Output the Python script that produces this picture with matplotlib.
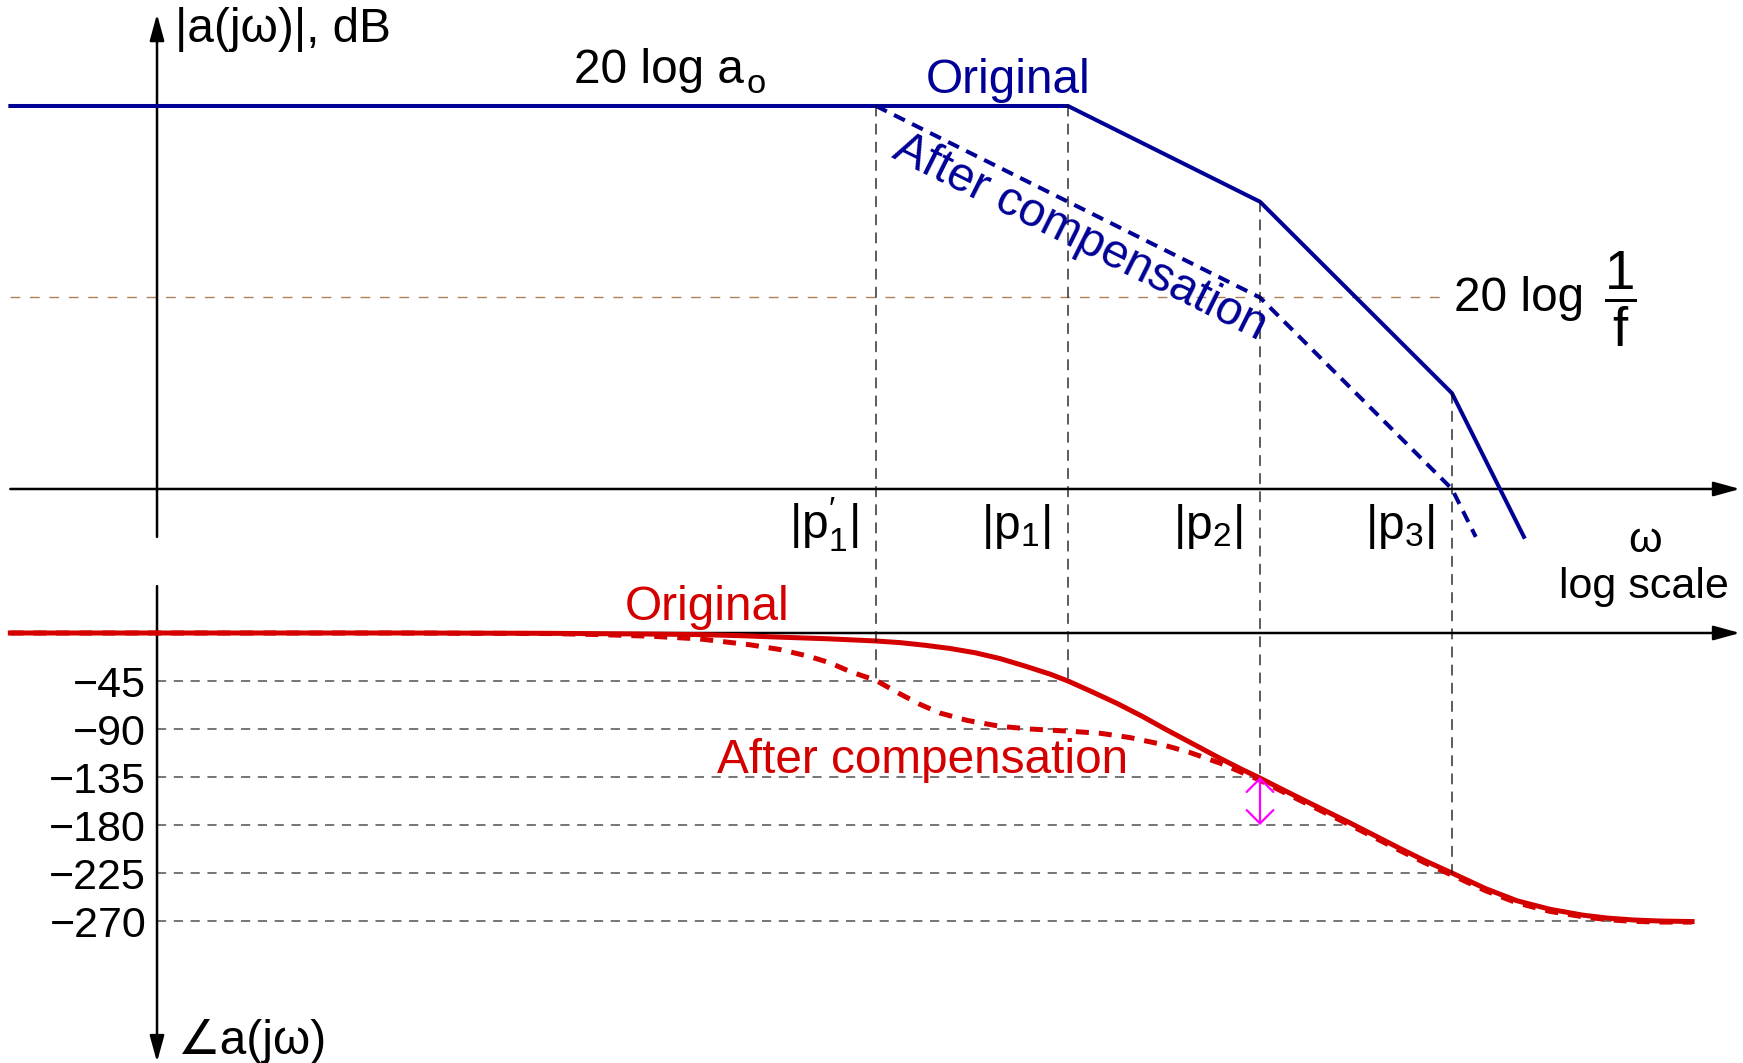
import matplotlib
matplotlib.use("Agg")
import matplotlib.pyplot as plt
from matplotlib.patches import ConnectionPatch
from matplotlib.transforms import offset_copy

plt.rcParams['font.family'] = ['Liberation Sans', 'DejaVu Sans']
plt.rcParams['mathtext.fontset'] = 'custom'
plt.rcParams['mathtext.rm'] = 'Liberation Sans'
plt.rcParams['mathtext.it'] = 'Liberation Sans:italic'
plt.rcParams['mathtext.bf'] = 'Liberation Sans:bold'
plt.rcParams['mathtext.sf'] = 'Liberation Sans'

# ---------------- data ----------------
poles = [1e4, 1e5, 1e6, 1e7]                       # |p1'|, |p1|, |p2|, |p3|
pole_labels = ["|p$_1^{\\prime}$|", "|p$_1$|", "|p$_2$|", "|p$_3$|"]
pole_top_db = [80, 80, 60, 20]                      # marker line start (magnitude, dB)
pole_bottom_deg = [-45, -45, -135, -225]            # marker line end (phase, deg)

mag_orig_w = [0.31, 1e5, 1e6, 1e7, 2.37e7]
mag_orig_db = [80, 80, 60, 20, -10]
mag_comp_w = [1e4, 1e6, 1e7, 1.33e7]
mag_comp_db = [80, 40, 0, -10]
inv_f_db = 40
inv_f_end_w = 8.7e6

ph_orig_w = [0.31, 33, 200, 666, 1.2e3, 1.96e3, 3.28e3, 5.76e3, 1e4, 1.33e4, 1.8e4,
             2.43e4, 3.28e4, 4.43e4, 5.97e4, 8.05e4, 1e5, 1.33e5, 1.8e5, 2.43e5, 3.28e5,
             4.43e5, 5.97e5, 7.87e5, 1e6, 1.27e6, 1.62e6, 2.18e6, 2.94e6, 3.97e6, 5.36e6,
             7.23e6, 1e7, 1.49e7, 2.18e7, 3.24e7, 4.81e7, 6.5e7, 8.77e7, 1.21e8, 1.78e8]
ph_orig_deg = [0, 0, -0.3, -1, -1.5, -2.5, -4, -5.5, -7.5, -9, -11.5,
               -14.5, -18.5, -24, -31, -38.5, -45, -55, -66, -78, -91,
               -103.5, -116, -127, -136, -145.5, -155, -166.5, -178, -190, -202,
               -213.5, -225, -239.5, -251, -259, -264.5, -267.3, -269, -270, -270.5]
ph_comp_w = [0.31, 33, 200, 365, 666, 1.2e3, 2.2e3, 3.16e3, 4.5e3, 5.76e3, 7.3e3, 1e4,
             1.33e4, 1.7e4, 2.15e4, 3.0e4, 4.43e4, 6.34e4, 1e5, 1.47e5, 2.1e5, 3.01e5,
             4.31e5, 6.19e5, 7.87e5, 1e6, 1.27e6, 1.62e6, 2.18e6, 2.94e6, 3.97e6, 5.36e6,
             7.23e6, 1e7, 1.49e7, 2.18e7, 3.24e7, 4.81e7, 6.5e7, 8.77e7, 1.21e8, 1.78e8]
ph_comp_deg = [0, 0, -0.5, -1.5, -3, -5.5, -11, -15.5, -22, -28, -36, -44.5,
               -57, -67, -75, -82, -87.5, -90, -92, -94, -98, -104,
               -112, -122, -130, -138, -147.5, -157, -168.5, -180, -192, -204,
               -215.5, -227, -241.5, -253, -261, -266, -268.8, -270.3, -271, -271]

grid_deg = [-45, -90, -135, -180, -225, -270]
grid_end_w = [1e5, 1e5, 1e6, 2.9e6, 1e7, 1.78e8]
tick_labels = ["\u221245", "\u221290", "\u2212135", "\u2212180", "\u2212225", "\u2212270"]

# ---------------- style ----------------
BLUE = '#000096'
RED = '#D40000'
MAG = '#FF00FF'
BROWN = '#B0805A'
GREY = '#505050'
FS = 34.4

W, H = 1743, 1063
fig = plt.figure(figsize=(W / 100, H / 100), dpi=100)
ax_mag = fig.add_axes([0, 0, 1, 1])
ax_ph = fig.add_axes([0, 0, 1, 1])
for ax in (ax_mag, ax_ph):
    ax.set_xscale('log')
    ax.set_xlim(10 ** -0.5625, 10 ** 8.5156)
    ax.axis('off')
ax_mag.set_ylim(-119.9, 102.14)
ax_ph.set_ylim(-403.1, 593.4)

x_left = 0.31
x_right = 10 ** 8.5
x_vaxis = 1.8

# phase grid lines and labels
for d, we in zip(grid_deg, grid_end_w):
    ax_ph.plot([x_vaxis, we], [d, d], color=GREY, lw=1.1, ls=(0, (6, 5)), zorder=1)
for d, t in zip(grid_deg, tick_labels):
    ax_ph.text(1.58, d, t, ha='right', va='center_baseline', fontsize=31, color='black')

# 1/f line
ax_mag.plot([x_left, inv_f_end_w], [inv_f_db, inv_f_db], color=BROWN, lw=1.0,
            ls=(0, (7, 7)), zorder=1)

# pole marker lines
for p, top, bot in zip(poles, pole_top_db, pole_bottom_deg):
    con = ConnectionPatch(xyA=(p, top), coordsA=ax_mag.transData,
                          xyB=(p, bot), coordsB=ax_ph.transData,
                          color='black', lw=0.9, ls=(0, (8, 6.5)), zorder=1)
    fig.add_artist(con)

# axes (arrows)
akw = dict(arrowstyle='-|>,head_length=0.8,head_width=0.22', color='black', lw=1.8,
           shrinkA=0, shrinkB=0, mutation_scale=20)
ax_mag.annotate('', xy=(x_right, 0), xytext=(x_left, 0), arrowprops=akw)
ax_mag.annotate('', xy=(x_vaxis, 99.2), xytext=(x_vaxis, -10), arrowprops=akw)
ax_ph.annotate('', xy=(x_right, 0), xytext=(x_left, 0), arrowprops=akw)
ax_ph.annotate('', xy=(x_vaxis, -402.2), xytext=(x_vaxis, 44), arrowprops=akw)

# magnitude curves
ax_mag.plot(mag_orig_w, mag_orig_db, color=BLUE, lw=2.9, zorder=3, solid_joinstyle='miter')
ax_mag.plot(mag_comp_w, mag_comp_db, color=BLUE, lw=2.9, ls=(0, (3.0, 2.0)), zorder=3)

# phase curves
ax_ph.plot(ph_orig_w, ph_orig_deg, color=RED, lw=3.6, zorder=3)
ax_ph.plot(ph_comp_w, ph_comp_deg, color=RED, lw=3.6, ls=(0, (2.6, 2.0)), zorder=3)

# phase margin arrow
ax_ph.annotate('', xy=(poles[2], -180), xytext=(poles[2], -135),
               arrowprops=dict(arrowstyle='<->,head_length=0.6,head_width=0.6', color=MAG,
                               lw=1.6, shrinkA=0, shrinkB=0, mutation_scale=16), zorder=4)

# pole labels
tr = offset_copy(ax_mag.transData, fig=fig, x=-18, y=0, units='dots')
for p, lab in zip(poles, pole_labels):
    ax_mag.text(p, -10.4, lab, transform=tr, ha='right', va='baseline', fontsize=FS)


def fx(x):
    return x / W


def fy(y):
    return 1 - y / H


fig.text(fx(175), fy(30), "|a(j\u03c9)|, dB", ha='left', va='center', fontsize=FS)
fig.text(fx(574), fy(83), "20 log a", ha='left', va='baseline', fontsize=FS)
fig.text(fx(747), fy(93), "o", ha='left', va='baseline', fontsize=FS * 0.72)
fig.text(fx(926), fy(93), "Original", ha='left', va='baseline', fontsize=FS, color=BLUE)
fig.text(fx(1080), fy(238), "After compensation", ha='center', va='center', fontsize=FS,
         color=BLUE, rotation=-26.5, rotation_mode='anchor')
fig.text(fx(1454), fy(311), "20 log", ha='left', va='baseline', fontsize=FS)
fig.text(fx(1620), fy(299), "$\\dfrac{1}{\\mathrm{f}}$", ha='center', va='center',
         fontsize=FS * 1.15)
fig.text(fx(1645), fy(541), "\u03c9", ha='center', va='center', fontsize=31)
fig.text(fx(1644), fy(598), "log scale", ha='center', va='baseline', fontsize=31)
fig.text(fx(625), fy(620), "Original", ha='left', va='baseline', fontsize=FS, color=RED)
fig.text(fx(717), fy(773), "After compensation", ha='left', va='baseline', fontsize=FS,
         color=RED)
fig.text(fx(178), fy(1054), "\u2220a(j\u03c9)", ha='left', va='baseline', fontsize=FS)

fig.savefig('out.png', dpi=100)
